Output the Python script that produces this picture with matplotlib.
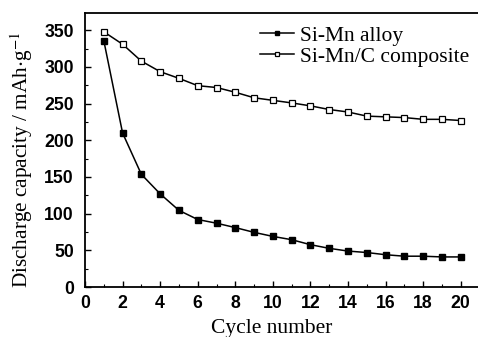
import matplotlib
matplotlib.use('Agg')
import matplotlib.pyplot as plt
from matplotlib.ticker import MultipleLocator

cycles = list(range(1, 21))
alloy = [336, 210, 153.6, 127, 104.5, 92, 87, 81, 74.5, 69,
         64.5, 57.7, 52.7, 49, 47, 44, 42, 42, 41, 41]
composite = [348, 331, 308, 293.6, 284.5, 274.5, 272, 265.5, 258, 254.5,
             251, 247, 242, 238.6, 233, 232, 231, 228.6, 228.6, 227]

plt.rcParams['mathtext.fontset'] = 'stix'

fig = plt.figure(figsize=(4.78, 3.37), dpi=100)
ax = fig.add_axes([85 / 478, 50 / 337, 393 / 478, 274.3 / 337])

ax.plot(cycles, alloy, color='black', lw=1.1, marker='s', ms=4.5,
        mfc='black', mec='black', label='Si-Mn alloy')
ax.plot(cycles, composite, color='black', lw=1.1, marker='s', ms=4.5,
        mfc='white', mec='black', mew=0.9, label='Si-Mn/C composite')

ax.set_xlim(0, 20.92)
ax.set_ylim(0, 374)
ax.xaxis.set_major_locator(MultipleLocator(2))
ax.xaxis.set_minor_locator(MultipleLocator(1))
ax.yaxis.set_major_locator(MultipleLocator(50))
ax.yaxis.set_minor_locator(MultipleLocator(25))
ax.tick_params(which='both', direction='in', top=False, right=False)
ax.tick_params(which='major', length=4, width=1)
ax.tick_params(which='minor', length=2.5, width=0.8)
ax.tick_params(axis='y', pad=8)
ax.tick_params(axis='x', pad=6)
ax.spines['right'].set_visible(False)
for s in ('left', 'bottom', 'top'):
    ax.spines[s].set_linewidth(1.3)

for lab in ax.get_xticklabels() + ax.get_yticklabels():
    lab.set_family('Liberation Sans')
    lab.set_fontweight('bold')
    lab.set_fontsize(12.7)

ax.set_xlabel('Cycle number', family='Liberation Serif', fontsize=15.5)
ax.set_ylabel(r'Discharge capacity / mAh$\cdot$g$^{-1}$',
              family='Liberation Serif', fontsize=15.3)
ax.xaxis.set_label_coords(0.476, -0.118)
ax.yaxis.set_label_coords(-0.128, 0.465)

leg = ax.legend(loc='upper right', bbox_to_anchor=(1.01, 1.0), frameon=False,
                prop={'family': 'Liberation Serif', 'size': 15.5},
                handlelength=1.6, handletextpad=0.25, labelspacing=0.05,
                markerscale=0.65, borderaxespad=0.2)

fig.savefig('out.png', dpi=100)
